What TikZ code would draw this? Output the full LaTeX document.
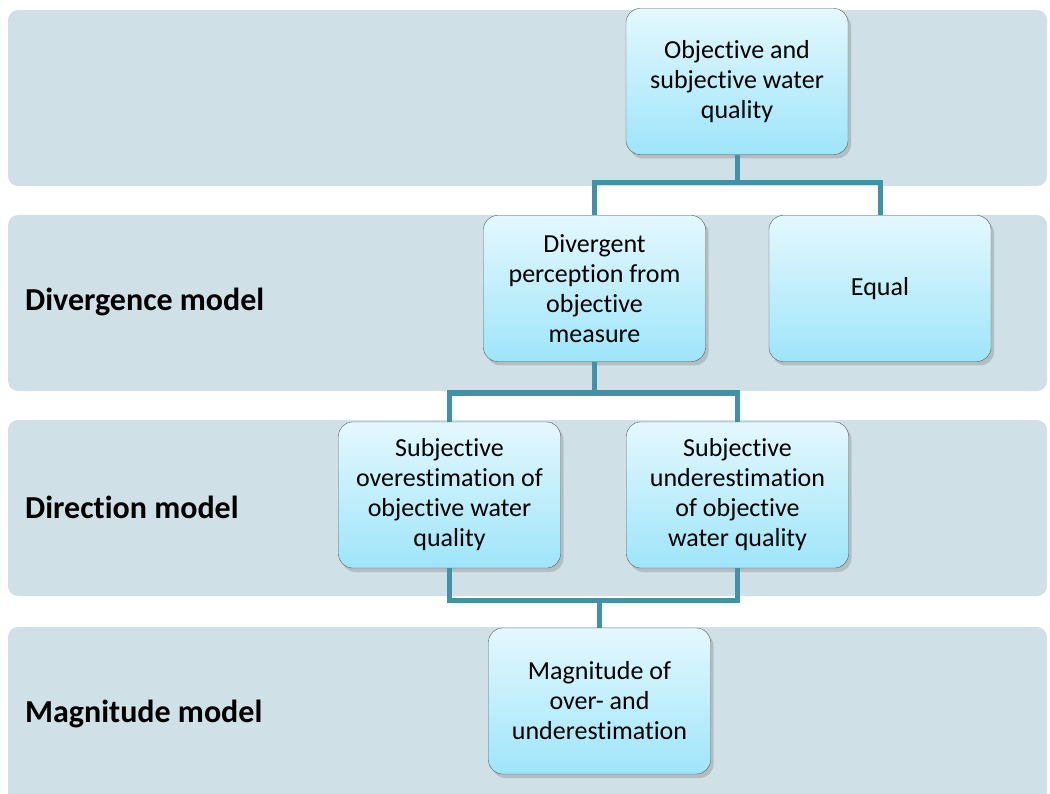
\documentclass[tikz,border=0pt]{standalone}
\usepackage{fontspec}
\setmainfont{Carlito}[Ligatures={NoCommon}]
\usetikzlibrary{shadows}

\definecolor{bandgrey}{RGB}{207,224,231}
\definecolor{linkblue}{RGB}{66,145,170}
\definecolor{boxtop}{RGB}{228,248,253}
\definecolor{boxbot}{RGB}{158,229,250}

\tikzset{
  band/.style={fill=bandgrey, rounded corners=10pt},
  stage/.style={draw=black!65, thin, rounded corners=14pt, top color=boxtop, bottom color=boxbot,
    minimum width=222pt, minimum height=146pt, align=center,
    font=\fontsize{26}{30}\selectfont,
    drop shadow={opacity=0.35, shadow xshift=3pt, shadow yshift=-4pt}},
  link/.style={draw=linkblue, line width=5pt},
  modellabel/.style={anchor=west, inner sep=0pt, font=\bfseries\fontsize{32}{36}\selectfont}
}

\begin{document}
\begin{tikzpicture}[x=1pt,y=-1pt]
		\useasboundingbox (0,0) rectangle (1050,794);
		\clip (0,0) rectangle (1050,794);

		% bands
		\fill [band] (8,10) rectangle (1047,186);
		\fill [band] (8,215) rectangle (1047,391);
		\fill [band] (8,420) rectangle (1047,596);
		\fill [band] (8,627) rectangle (1047,810);

		\node [modellabel] (divlabel) at (25,302) {Divergence model};
		\node [modellabel] (dirlabel) at (25,507) {Direction model};
		\node [modellabel] (maglabel) at (25,714) {Magnitude model};

		% boxes
		\node [stage] (quality) at (737,81.5) {Objective and\\subjective water\\quality};
		\node [stage] (divergent) at (594.5,288.5) {Divergent\\perception from\\objective\\measure};
		\node [stage] (equal) at (880,288.5) {Equal};
		\node [stage] (over) at (449.5,495) {Subjective\\overestimation of\\objective water\\quality};
		\node [stage] (under) at (737.5,495) {Subjective\\underestimation\\of objective\\water quality};
		\node [stage] (magnitude) at (599.5,701) {Magnitude of\\over- and\\underestimation};

		% connectors
		\coordinate (bus1) at (0,183);
		\coordinate (bus2) at (0,393);
		\coordinate (bus3) at (0,600);
		\draw [link] (quality.south) -- (quality.south |- bus1);
		\draw [link] (divergent.north) -- (divergent.north |- bus1) -- (equal.north |- bus1) -- (equal.north);
		\draw [link] (divergent.south) -- (divergent.south |- bus2);
		\draw [link] (over.north) -- (over.north |- bus2) -- (under.north |- bus2) -- (under.north);
		\draw [link] (over.south) -- (over.south |- bus3) -- (under.south |- bus3) -- (under.south);
		\draw [link] (magnitude.north |- bus3) -- (magnitude.north);

\end{tikzpicture}
\end{document}
